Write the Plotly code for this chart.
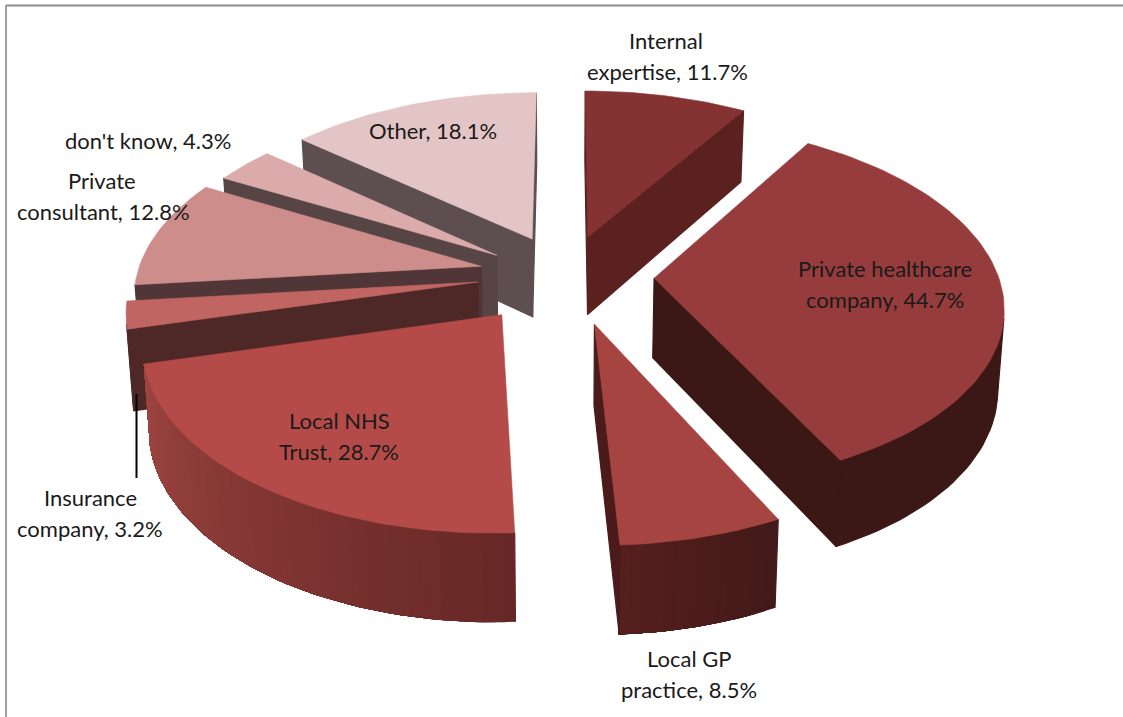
import math
import plotly.graph_objects as go

# Survey shares, clockwise from twelve o'clock
categories = ["Internal expertise", "Private healthcare company", "Local GP practice",
              "Local NHS Trust", "Insurance company", "Private consultant",
              "don't know", "Other"]
values = [11.7, 44.7, 8.5, 28.7, 3.2, 12.8, 4.3, 18.1]

# Face colours per slice
top_colors = ["#843232", "#973c3c", "#a64442", "#b54b48", "#c16563", "#cd8d8b", "#dbabab", "#e4c5c5"]
cut_colors = ["#5a211f", "#3b1716", "#4a1b1a", "#4e2826", "#4e2826", "#503636", "#574444", "#5d4f4f"]
rim_start_colors = ["#5a211f", "#3b1716", "#421a19", "#662826", "#4e2826", "#503636", "#574444", "#5d4f4f"]
rim_end_colors = ["#5a211f", "#3b1716", "#561f1e", "#9e4541", "#4e2826", "#503636", "#574444", "#5d4f4f"]

# Data label lines: (text, x, y) in page pixels
label_lines = [
    ("Internal", 666, 40), ("expertise, 11.7%", 667, 71),
    ("Private healthcare", 885, 268), ("company, 44.7%", 885, 299),
    ("Local GP", 689, 658), ("practice, 8.5%", 689, 689),
    ("Local NHS", 339, 420), ("Trust, 28.7%", 339, 451),
    ("Insurance", 90, 497), ("company, 3.2%", 90, 528),
    ("Private", 102, 180), ("consultant, 12.8%", 103, 211),
    ("don't know, 4.3%", 148, 140),
    ("Other, 18.1%", 433, 130),
]

# Perspective camera and solid proportions
CX, CY = 565.0, 280.0
FX, FY, DIST = 2475.0, 1271.0, 7.19
EXPLODE = 0.25
SHRINK = 0.985
# Per-slice offset of the exploded position, in page pixels
slice_offsets = [(0, -2), (3, -4), (7, 0), (-11, -2), (-2, -6), (0, -5), (1, 0), (2, -2)]


def top_point(px, py, off=(0, 0)):
    w = DIST - py
    return CX + FX * px / w + off[0], CY + FY * py / w + off[1]


def bottom_point(px, py, off=(0, 0)):
    x, y = top_point(px, py, off)
    return CX + (x - CX) * SHRINK, y + 79.4 + 7.6 * py


def signed_area(pts):
    s = 0.0
    for (x0, y0), (x1, y1) in zip(pts, pts[1:] + pts[:1]):
        s += x0 * y1 - x1 * y0
    return s


def lerp_color(c0, c1, t):
    a = [int(c0[i:i + 2], 16) for i in (1, 3, 5)]
    b = [int(c1[i:i + 2], 16) for i in (1, 3, 5)]
    return "rgb({},{},{})".format(*[round(p + (q - p) * t) for p, q in zip(a, b)])


def polygon(pts, color, width=0.6):
    xs = [p[0] for p in pts] + [pts[0][0]]
    ys = [p[1] for p in pts] + [pts[0][1]]
    return go.Scatter(x=xs, y=ys, mode="lines", fill="toself", fillcolor=color,
                      line=dict(color=color, width=width), hoverinfo="skip", showlegend=False)


total = sum(values)
slices = []
angle = 0.0
for i, v in enumerate(values):
    sweep = 360.0 * v / total
    start, end = math.radians(angle), math.radians(angle + sweep)
    mid = (start + end) / 2
    ax, ay = EXPLODE * math.sin(mid), -EXPLODE * math.cos(mid)
    n = max(3, int(sweep / 1.5))
    rim = [(ax + math.sin(start + (end - start) * k / n),
            ay - math.cos(start + (end - start) * k / n)) for k in range(n + 1)]
    slices.append(dict(i=i, apex=(ax, ay), rim=rim))
    angle += sweep

fig = go.Figure()


def wall_quad(p, q, off):
    return [top_point(*p, off), top_point(*q, off), bottom_point(*q, off), bottom_point(*p, off)]


# Paint back to front; within a slice only outward-facing walls are drawn, then the lid
for s in sorted(slices, key=lambda item: item["apex"][1]):
    i, apex, rim = s["i"], s["apex"], s["rim"]
    off = slice_offsets[i]
    n = len(rim) - 1

    # Rim bands are nested so each one overpaints the rest of the run and leaves no seams
    seen = [k for k in range(n) if signed_area(wall_quad(rim[k], rim[k + 1], off)) < 0]
    if seen:
        last = seen[-1] + 1
        previous = None
        for k in seen:
            color = lerp_color(rim_start_colors[i], rim_end_colors[i], k / n)
            if color == previous:
                continue
            previous = color
            run = rim[k:last + 1]
            fig.add_trace(polygon([top_point(*p, off) for p in run] +
                                  [bottom_point(*p, off) for p in reversed(run)], color, 1.2))

    for p, q in ((apex, rim[0]), (rim[-1], apex)):
        quad = wall_quad(p, q, off)
        if signed_area(quad) < 0:
            fig.add_trace(polygon(quad, cut_colors[i], 1.2))

    fig.add_trace(polygon([top_point(*p, off) for p in [apex] + rim], top_colors[i]))

# Leader from the Insurance company label up to its slice
fig.add_trace(go.Scatter(x=[136.5, 136.5], y=[394, 478], mode="lines",
                         line=dict(color="#000000", width=2), hoverinfo="skip", showlegend=False))

for text, x, y in label_lines:
    fig.add_annotation(x=x, y=y, text=text, showarrow=False, xanchor="center", yanchor="middle",
                       font=dict(family="Lato", size=22, color="#1a1a1a"))

fig.update_layout(
    width=1123, height=717, margin=dict(l=0, r=0, t=0, b=0),
    paper_bgcolor="#ffffff", plot_bgcolor="#ffffff", showlegend=False,
    xaxis=dict(range=[0, 1123], visible=False, fixedrange=True),
    yaxis=dict(range=[717, 0], visible=False, fixedrange=True),
    shapes=[
        dict(type="line", x0=6, x1=1123, y0=5.5, y1=5.5, line=dict(color="#8c8c8c", width=2)),
        dict(type="line", x0=6, x1=6, y0=5, y1=717, line=dict(color="#a0a0a0", width=2)),
    ],
)

fig.write_html("out.html", config=dict(displayModeBar=False))
